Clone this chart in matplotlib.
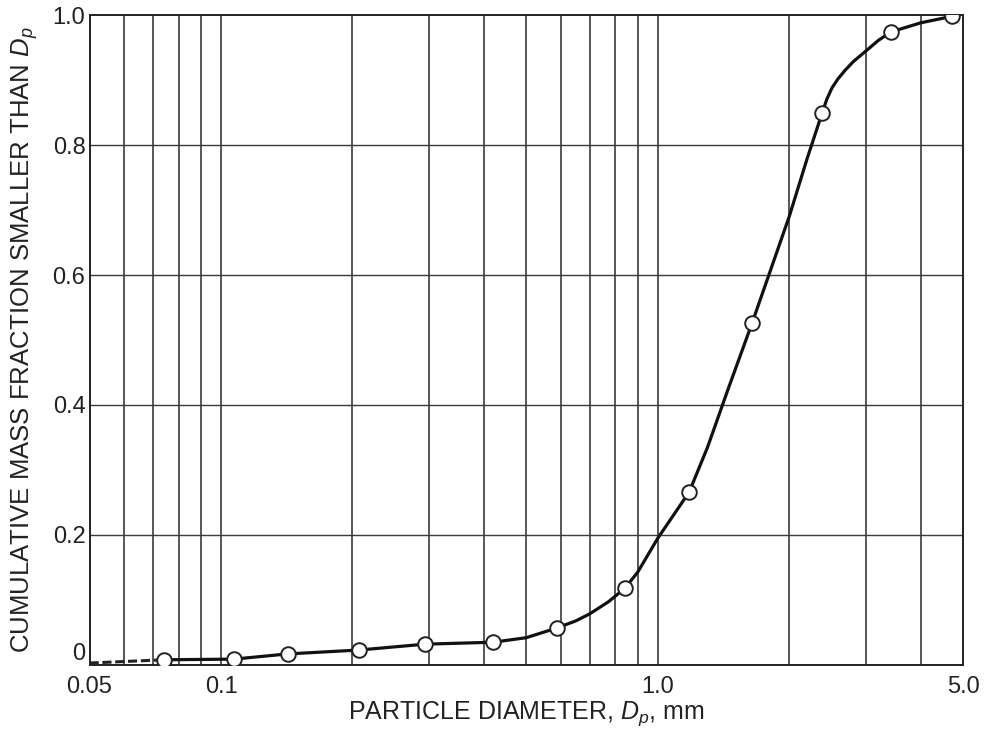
import numpy as np
import matplotlib
matplotlib.use("Agg")
from matplotlib import pyplot as plt

plt.rcParams['font.family'] = ['Liberation Sans', 'DejaVu Sans']
plt.rcParams['mathtext.fontset'] = 'custom'
plt.rcParams['mathtext.it'] = 'Liberation Sans:italic'
plt.rcParams['mathtext.rm'] = 'Liberation Sans'

# measured points (particle diameter in mm, cumulative mass fraction)
dp_points = [0.074, 0.107, 0.142, 0.207, 0.293, 0.42, 0.588, 0.841, 1.18, 1.644, 2.378, 3.42, 4.72]
frac_points = [0.008, 0.009, 0.017, 0.023, 0.032, 0.035, 0.057, 0.118, 0.266, 0.526, 0.849, 0.974, 0.998]

# hand-drawn smooth curve
dp_curve = [0.074, 0.107, 0.142, 0.207, 0.293, 0.42, 0.5, 0.588, 0.65, 0.7, 0.77, 0.841, 0.9,
            1.0, 1.18, 1.3, 1.45, 1.644, 2.0, 2.2, 2.378, 2.44, 2.506, 2.587, 2.685, 2.8,
            3.0, 3.2, 3.42, 4.0, 4.72]
frac_curve = [0.008, 0.009, 0.017, 0.023, 0.032, 0.035, 0.042, 0.057, 0.068, 0.079, 0.097, 0.118, 0.143,
              0.195, 0.266, 0.335, 0.425, 0.526, 0.69, 0.78, 0.849, 0.871, 0.888, 0.902, 0.915, 0.928,
              0.945, 0.961, 0.974, 0.988, 0.998]

# dashed lead-in along the axis
dp_tail = [0.05, 0.074]
frac_tail = [0.003, 0.008]

xgrid = [0.06, 0.07, 0.08, 0.09, 0.1, 0.2, 0.3, 0.4, 0.5, 0.6, 0.7, 0.8, 0.9, 1.0, 2.0, 3.0, 4.0]
ygrid = [0.2, 0.4, 0.6, 0.8]
xticks = [0.05, 0.1, 1.0, 5.0]
xticklabels = ['0.05', '0.1', '1.0', '5.0']
yticks = [0, 0.2, 0.4, 0.6, 0.8, 1.0]
yticklabels = ['0', '0.2', '0.4', '0.6', '0.8', '1.0']

fig = plt.figure(figsize=(9.84, 7.33), dpi=100)
ax = fig.add_axes([0.091, 0.0928, 0.8877, 0.8867])

for xg in xgrid:
    ax.axvline(xg, color='#2a2a2a', lw=1.1, zorder=1)
for yg in ygrid:
    ax.axhline(yg, color='#3a3a3a', lw=1.0, zorder=1)

ax.plot(dp_tail, frac_tail, color='#222222', lw=2.2, ls=(0, (3, 1.2)), zorder=2)
ax.plot(dp_curve, frac_curve, color='#111111', lw=2.3, zorder=3, solid_joinstyle='round')
ax.plot(dp_points, frac_points, 'o', ms=10.5, mfc='white', mec='#222222', mew=1.4, zorder=4)

ax.set_xscale('log')
ax.set_xlim(0.05, 5.0)
ax.set_ylim(0, 1.0)
ax.minorticks_off()
ax.set_xticks(xticks)
ax.set_xticklabels(xticklabels)
ax.set_yticks(yticks)
ax.set_yticklabels(yticklabels)
ax.tick_params(length=0, labelsize=17, colors='#222222')
ax.tick_params(axis='x', pad=8)
ax.tick_params(axis='y', pad=3)
ax.get_yticklabels()[0].set_verticalalignment('bottom')

for s in ax.spines.values():
    s.set_linewidth(1.4)
    s.set_color('#222222')

ax.set_xlabel('PARTICLE DIAMETER, $D_p$, mm', fontsize=18, color='#222222', labelpad=1)
ax.set_ylabel('CUMULATIVE MASS FRACTION SMALLER THAN $D_p$', fontsize=18.5, color='#222222', labelpad=9)

plt.savefig('out.png', dpi=100)
